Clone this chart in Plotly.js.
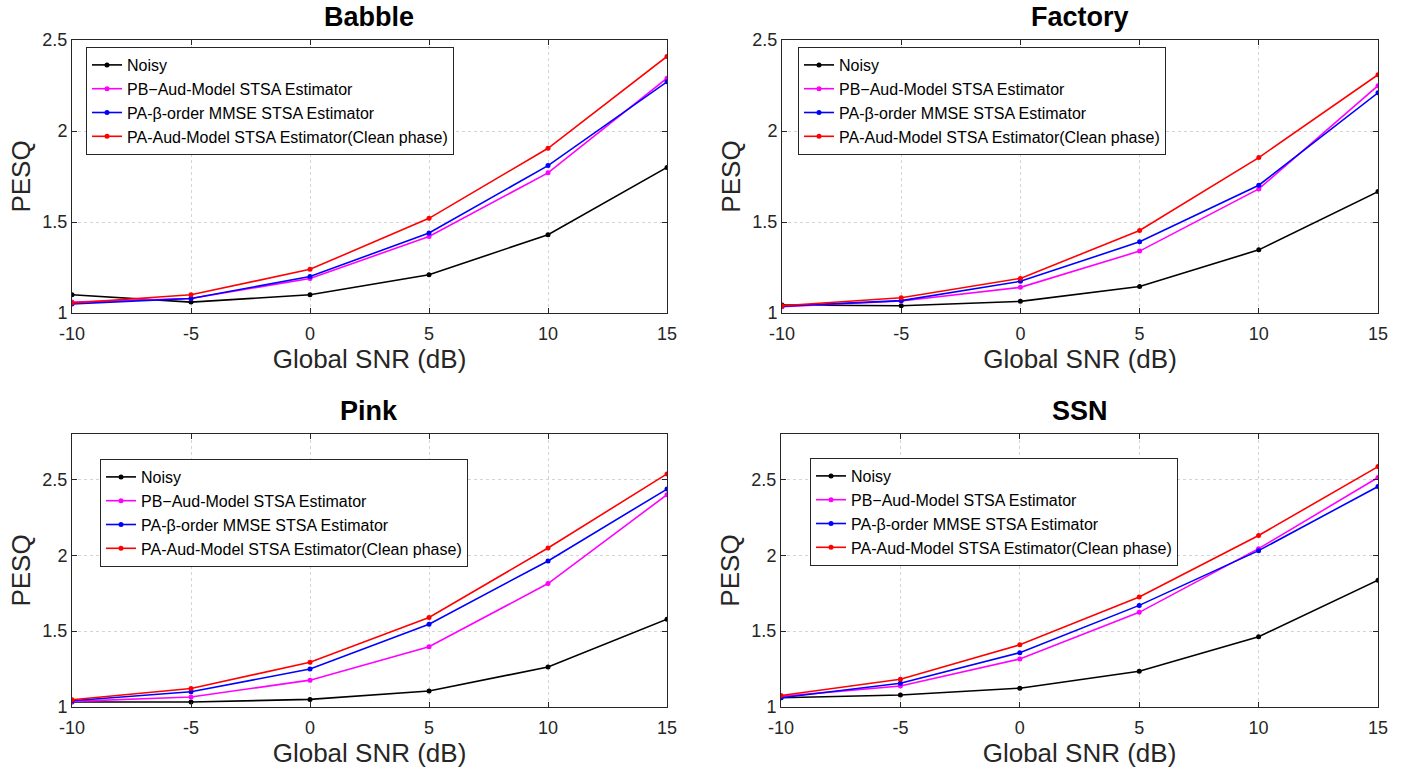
<!DOCTYPE html>
<html>
<head>
<meta charset="utf-8">
<script src="https://cdn.plot.ly/plotly-3.0.1.min.js"></script>
<style>html,body{margin:0;padding:0;background:#fff;}#chart{width:1413px;height:779px;}</style>
</head>
<body>
<div id="chart"></div>
<script>
const snr = [-10, -5, 0, 5, 10, 15];
const seriesNames = ["Noisy", "PB\u2212Aud-Model STSA Estimator", "PA-\u03b2-order MMSE STSA Estimator", "PA-Aud-Model STSA Estimator(Clean phase)"];
const panelTitles = ["Babble", "Factory", "Pink", "SSN"];

// Babble
const babbleNoisy = [1.10, 1.06, 1.10, 1.21, 1.43, 1.80];
const babblePB    = [1.06, 1.08, 1.19, 1.42, 1.77, 2.29];
const babbleBeta  = [1.05, 1.08, 1.20, 1.44, 1.81, 2.27];
const babbleClean = [1.055, 1.10, 1.24, 1.52, 1.905, 2.41];
// Factory
const factoryNoisy = [1.044, 1.04, 1.064, 1.146, 1.347, 1.667];
const factoryPB    = [1.035, 1.066, 1.141, 1.34, 1.682, 2.249];
const factoryBeta  = [1.038, 1.068, 1.174, 1.391, 1.702, 2.21];
const factoryClean = [1.04, 1.084, 1.19, 1.453, 1.854, 2.309];
// Pink
const pinkNoisy = [1.033, 1.033, 1.05, 1.105, 1.264, 1.579];
const pinkPB    = [1.037, 1.066, 1.177, 1.397, 1.814, 2.40];
const pinkBeta  = [1.041, 1.10, 1.251, 1.546, 1.963, 2.437];
const pinkClean = [1.048, 1.122, 1.295, 1.59, 2.048, 2.537];
// SSN
const ssnNoisy = [1.061, 1.079, 1.124, 1.236, 1.463, 1.836];
const ssnPB    = [1.07, 1.138, 1.317, 1.624, 2.044, 2.513];
const ssnBeta  = [1.061, 1.157, 1.358, 1.67, 2.031, 2.454];
const ssnClean = [1.076, 1.183, 1.41, 1.725, 2.131, 2.585];

const xTickVals = [-10, -5, 0, 5, 10, 15];
const xTickText = ["-10", "-5", "0", "5", "10", "15"];
const yTickVals = [1, 1.5, 2, 2.5];
const yTickText = ["1", "1.5", "2", "2.5"];

const panels = [
  [babbleNoisy, babblePB, babbleBeta, babbleClean],
  [factoryNoisy, factoryPB, factoryBeta, factoryClean],
  [pinkNoisy, pinkPB, pinkBeta, pinkClean],
  [ssnNoisy, ssnPB, ssnBeta, ssnClean]
];
const colors = ["#000000", "#ff00ff", "#0000ff", "#ff0000"];
const FONT = "Liberation Sans, Arial, Helvetica, sans-serif";
const W = 1413, H = 779;

// pixel boxes [left, right, top, bottom]
const boxes = [
  [72, 667, 40, 313],
  [782, 1378, 40, 313],
  [72, 667, 434, 707],
  [781, 1378, 434, 707]
];
const yRanges = [[1, 2.5], [1, 2.5], [1, 2.8], [1, 2.8]];
const legendPos = [[86, 47], [798, 47], [100, 459], [810, 458]];

const traces = [];
const layout = {
  width: W, height: H,
  margin: {l: 0, r: 0, t: 0, b: 0},
  paper_bgcolor: "#ffffff", plot_bgcolor: "#ffffff",
  font: {family: FONT, color: "#262626"},
  showlegend: true,
  annotations: []
};

panels.forEach((p, i) => {
  const n = i + 1;
  const xa = n === 1 ? "x" : "x" + n;
  const ya = n === 1 ? "y" : "y" + n;
  const lg = n === 1 ? "legend" : "legend" + n;
  p.forEach((vals, k) => {
    traces.push({
      x: snr, y: vals, type: "scatter", mode: "lines+markers",
      name: seriesNames[k], xaxis: xa, yaxis: ya, legend: lg,
      line: {color: colors[k], width: 1.6},
      marker: {color: colors[k], size: 5, symbol: "circle"}
    });
  });
  const b = boxes[i];
  const axCommon = {
    showline: true, linecolor: "#262626", linewidth: 1, mirror: "ticks",
    ticks: "inside", ticklen: 5, tickcolor: "#262626", tickwidth: 1,
    showgrid: true, gridcolor: "#d4d4d4", griddash: "dot", gridwidth: 1,
    zeroline: false, tickfont: {family: FONT, size: 18, color: "#262626"}
  };
  layout["xaxis" + (n === 1 ? "" : n)] = Object.assign({}, axCommon, {
    domain: [b[0] / W, b[1] / W], anchor: ya, range: [-10, 15],
    tickmode: "array", tickvals: xTickVals, ticktext: xTickText,
    ticklabelstandoff: 4,
    title: {text: "Global SNR (dB)", font: {family: FONT, size: 26, color: "#262626"}, standoff: 6}
  });
  layout["yaxis" + (n === 1 ? "" : n)] = Object.assign({}, axCommon, {
    domain: [1 - b[3] / H, 1 - b[2] / H], anchor: xa, range: yRanges[i],
    tickmode: "array", tickvals: yTickVals, ticktext: yTickText,
    title: {text: "PESQ", font: {family: FONT, size: 26, color: "#262626"}, standoff: 4}
  });
  const lp = legendPos[i];
  layout[lg] = {
    x: lp[0] / W, y: 1 - lp[1] / H, xanchor: "left", yanchor: "top",
    xref: "paper", yref: "paper",
    bgcolor: "#ffffff", bordercolor: "#262626", borderwidth: 1,
    font: {family: FONT, size: 16, color: "#000000"},
    itemwidth: 30, tracegroupgap: 0, itemsizing: "trace"
  };
  layout.annotations.push({
    text: "<b>" + panelTitles[i] + "</b>", showarrow: false,
    xref: "paper", yref: "paper",
    x: (b[0] + b[1]) / 2 / W, y: 1 - (b[2] - 6) / H,
    xanchor: "center", yanchor: "bottom",
    font: {family: FONT, size: 27, color: "#000000"}
  });
});

Plotly.newPlot("chart", traces, layout, {displayModeBar: false, staticPlot: true});
</script>
</body>
</html>
